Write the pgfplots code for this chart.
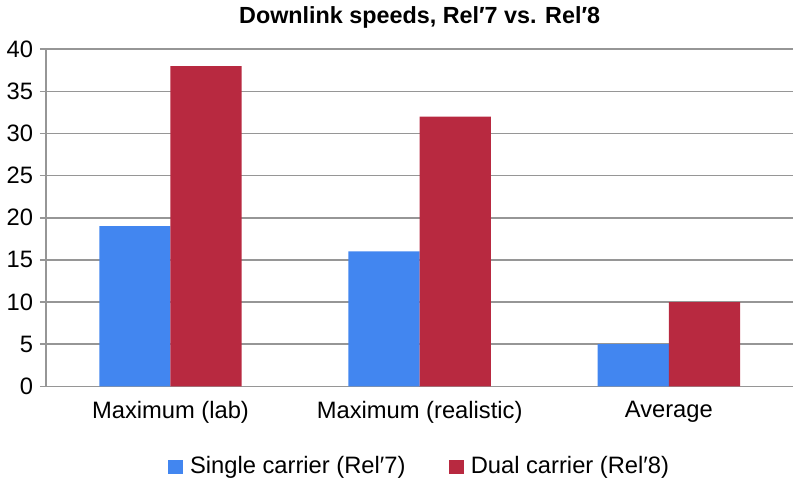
\documentclass[border=0pt]{standalone}
\usepackage{pgfplots}
\pgfplotsset{compat=1.18}
\usepackage{fontspec}
\setmainfont{Liberation Sans}
\definecolor{cblue}{RGB}{66,134,240}
\definecolor{cred}{RGB}{184,41,64}
\definecolor{cgrid}{RGB}{150,150,150}
\begin{document}
\begin{tikzpicture}
\begin{axis}[
  scale only axis,
  width=378pt, height=170.5pt,
  ybar=0pt, bar width=36pt,
  xmin=-0.5, xmax=2.5,
  ymin=0, ymax=40,
  ytick={0,5,...,40},
  xtick={0,1,2},
  xticklabels={Maximum (lab),Maximum (realistic),Average},
  extra x ticks={-0.5,0.5,1.5,2.5},
  extra x tick labels={},
  extra x tick style={major tick length=4pt, tick style={cgrid, line width=0.8pt}},
  major x tick style={draw=none},
  axis x line*=bottom, axis y line*=left,
  axis line style={cgrid, line width=0.8pt, -},
  ymajorgrids, grid style={cgrid, line width=0.8pt},
  y tick style={cgrid, line width=0.8pt},
  tick align=outside, major tick length=3pt,
  x tick label style={yshift=-1pt},
  tick label style={font=\fontsize{12}{14}\selectfont, black},
  /pgf/number format/assume math mode=true,
  title={\bfseries Downlink speeds, Rel′7 vs. Rel′8},
  title style={font=\fontsize{11.8}{13}\selectfont, yshift=1pt},
  legend style={at={(0.5,-0.19)}, anchor=north, draw=none, legend columns=2,
    font=\fontsize{12}{14}\selectfont, /tikz/every even column/.append style={column sep=21pt},
    nodes={inner sep=1pt}},
  legend image code/.code={\fill[#1] (0pt,-3.6pt) rectangle (7.4pt,3.6pt); \path (10pt,0pt);},
]
\addplot[fill=cblue, draw=none] coordinates {(0,19) (1,16) (2,5)};
\addplot[fill=cred, draw=none] coordinates {(0,38) (1,32) (2,10)};
\legend{Single carrier (Rel′7), Dual carrier (Rel′8)}
\end{axis}
\end{tikzpicture}
\end{document}
